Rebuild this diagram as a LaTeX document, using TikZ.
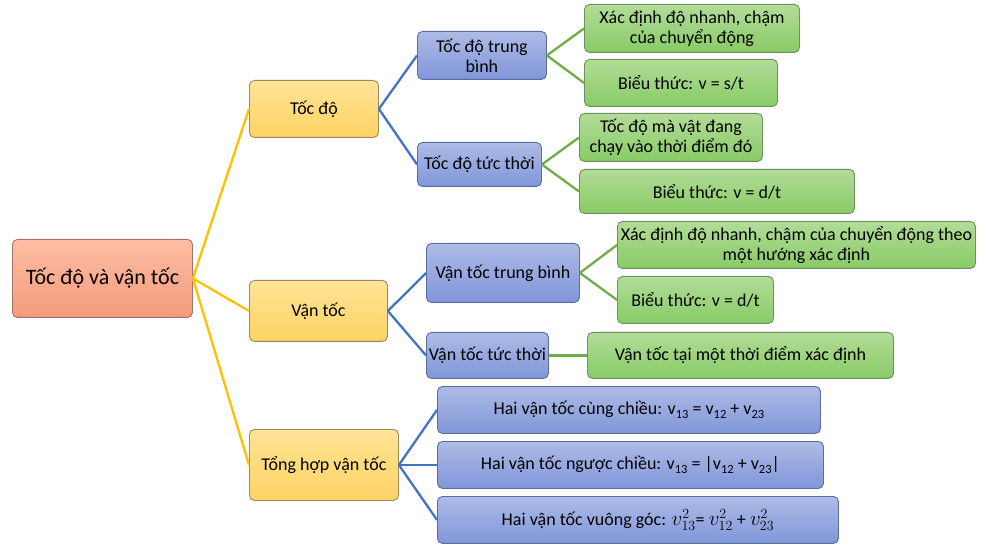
\documentclass[tikz,border=0pt]{standalone}
\usepackage{fix-cm}
\usepackage{fontspec}
\setmainfont{Carlito}
\DeclareMathSizes{18}{21}{14}{10}
\definecolor{rootT}{HTML}{FDBDA4}
\definecolor{rootB}{HTML}{F59B7C}
\definecolor{rootD}{HTML}{A07568}
\definecolor{yelT}{HTML}{FFE396}
\definecolor{yelB}{HTML}{FDD364}
\definecolor{yelD}{HTML}{9C8A5E}
\definecolor{bluT}{HTML}{ADBBE6}
\definecolor{bluB}{HTML}{8096D9}
\definecolor{bluD}{HTML}{5A6E9E}
\definecolor{grnT}{HTML}{B2DC98}
\definecolor{grnB}{HTML}{88CB66}
\definecolor{grnD}{HTML}{6E8F5E}
\definecolor{lnY}{HTML}{FFC000}
\definecolor{lnB}{HTML}{4472C4}
\definecolor{lnG}{HTML}{70AD47}
\newcommand\sbs[1]{\raisebox{-0.22em}{\fontsize{12.5}{13}\selectfont #1}}
\tikzset{
  box/.style={rounded corners=5pt, line width=0.9pt, anchor=north west, inner sep=2pt,
    align=center, font=\fontsize{18}{20}\selectfont, text=black},
  rootbox/.style={box, draw=rootD, top color=rootT, bottom color=rootB, font=\fontsize{22}{26}\selectfont},
  yelbox/.style={box, draw=yelD, top color=yelT, bottom color=yelB},
  blubox/.style={box, draw=bluD, top color=bluT, bottom color=bluB},
  grnbox/.style={box, draw=grnD, top color=grnT, bottom color=grnB},
  sz/.style 2 args={minimum width=#1pt, minimum height=#2pt},
  ly/.style={draw=lnY, line width=2.3pt},
  lb/.style={draw=lnB, line width=2.3pt},
  lg/.style={draw=lnG, line width=2.3pt},
}
\begin{document}
\begin{tikzpicture}[x=1pt,y=-1pt]
\useasboundingbox (0,0) rectangle (989,548);
% root
\node[rootbox, sz={180}{78}] (root) at (12,239) {Tốc độ và vận tốc};
% level 1
\node[yelbox, sz={129}{57}] (td) at (249,80) {Tốc độ};
\node[yelbox, sz={138}{61}] (vt) at (249,280) {Vận tốc};
\node[yelbox, sz={149}{71}] (th) at (249,429) {Tổng hợp vận tốc};
% level 2
\node[blubox, sz={129}{48}] (tdtb) at (417,31) {Tốc độ trung\\bình};
\node[blubox, sz={124}{44}] (tdtt) at (417,142) {Tốc độ tức thời};
\node[blubox, sz={153}{59}] (vttb) at (426,243) {Vận tốc trung bình};
\node[blubox, sz={122}{46}] (vttt) at (426,332) {Vận tốc tức thời};
\node[blubox, sz={383}{47}] (b1) at (437,386) {Hai vận tốc cùng chiều: v\sbs{13} = v\sbs{12} + v\sbs{23}};
\node[blubox, sz={386}{47}] (b2) at (437,441) {Hai vận tốc ngược chiều: v\sbs{13} = |v\sbs{12} + v\sbs{23}|};
\node[blubox, sz={401}{47}] (b3) at (437,496) {Hai vận tốc vuông góc: $v_{13}^{2}$= $v_{12}^{2}$ + $v_{23}^{2}$};
% level 3
\node[grnbox, sz={215}{48}] (l1) at (584,4) {Xác định độ nhanh, chậm\\của chuyển động};
\node[grnbox, sz={193}{47}] (l2) at (584,59) {Biểu thức: v = s/t};
\node[grnbox, sz={183}{48}] (l3) at (579,113) {Tốc độ mà vật đang\\chạy vào thời điểm đó};
\node[grnbox, sz={275}{44}] (l4) at (579,169) {Biểu thức: v = d/t};
\node[grnbox, sz={358}{47}] (l5) at (617,221) {Xác định độ nhanh, chậm của chuyển động theo\\một hướng xác định};
\node[grnbox, sz={156}{47}] (l6) at (617,276) {Biểu thức: v = d/t};
\node[grnbox, sz={306}{46}] (l7) at (587,332) {Vận tốc tại một thời điểm xác định};
% connectors
\draw[ly] (root.east) -- (td.west);
\draw[ly] (root.east) -- (vt.west);
\draw[ly] (root.east) -- (th.west);
\draw[lb] (td.east) -- (tdtb.west);
\draw[lb] (td.east) -- (tdtt.west);
\draw[lb] (vt.east) -- (vttb.west);
\draw[lb] (vt.east) -- (vttt.west);
\draw[lb] (th.east) -- (b1.west);
\draw[lb] (th.east) -- (b2.west);
\draw[lb] (th.east) -- (b3.west);
\draw[lg] (tdtb.east) -- (l1.west);
\draw[lg] (tdtb.east) -- (l2.west);
\draw[lg] (tdtt.east) -- (l3.west);
\draw[lg] (tdtt.east) -- (l4.west);
\draw[lg] (vttb.east) -- (l5.west);
\draw[lg] (vttb.east) -- (l6.west);
\draw[lg] (vttt.east) -- (l7.west);
\end{tikzpicture}
\end{document}
